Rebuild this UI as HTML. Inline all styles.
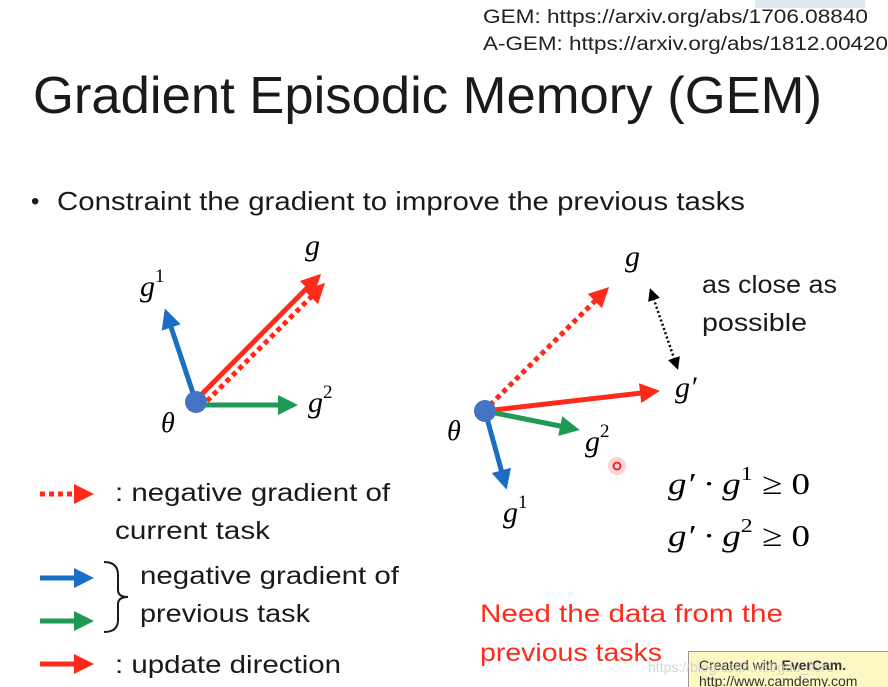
<!DOCTYPE html>
<html><head><meta charset="utf-8"><style>
html,body{margin:0;padding:0;background:#fff;}
svg{display:block;}
text{font-family:"Liberation Sans",sans-serif;}
.m{font-family:"Liberation Serif",serif;font-style:italic;}
.u{font-style:normal;}
</style></head><body>
<svg width="888" height="687" viewBox="0 0 888 687" xmlns="http://www.w3.org/2000/svg">
<defs>
<marker id="ar" markerWidth="4" markerHeight="4" refX="2" refY="2" orient="auto" markerUnits="strokeWidth"><path d="M0,0 L4,2 L0,4 z" fill="#ff2a1a"/></marker>
<marker id="ab" markerWidth="4" markerHeight="4" refX="2" refY="2" orient="auto" markerUnits="strokeWidth"><path d="M0,0 L4,2 L0,4 z" fill="#1a6fc4"/></marker>
<marker id="ag" markerWidth="4" markerHeight="4" refX="2" refY="2" orient="auto" markerUnits="strokeWidth"><path d="M0,0 L4,2 L0,4 z" fill="#1e9a55"/></marker>
<marker id="ak" markerWidth="5" markerHeight="5" refX="2.5" refY="2.5" orient="auto" markerUnits="strokeWidth"><path d="M0,0 L5,2.5 L0,5 z" fill="#000"/></marker>
<marker id="aks" markerWidth="5" markerHeight="5" refX="2.5" refY="2.5" orient="auto-start-reverse" markerUnits="strokeWidth"><path d="M0,0 L5,2.5 L0,5 z" fill="#000"/></marker>
</defs>
<rect x="755" y="0" width="110" height="8" fill="#dfe9f0"/>
<text x="483" y="23" font-size="19" fill="#222" textLength="385" lengthAdjust="spacingAndGlyphs">GEM: https://arxiv.org/abs/1706.08840</text>
<text x="483" y="50" font-size="19" fill="#222" textLength="405" lengthAdjust="spacingAndGlyphs">A-GEM: https://arxiv.org/abs/1812.00420</text>
<text x="33" y="113" font-size="52" fill="#1a1a1a" textLength="789" lengthAdjust="spacingAndGlyphs">Gradient Episodic Memory (GEM)</text>
<text x="31" y="209" font-size="24" fill="#1a1a1a">•</text>
<text x="57" y="210" font-size="26" fill="#1a1a1a" textLength="688" lengthAdjust="spacingAndGlyphs">Constraint the gradient to improve the previous tasks</text>

<!-- left diagram -->
<line x1="196" y1="402" x2="168" y2="318" stroke="#1a6fc4" stroke-width="5" marker-end="url(#ab)"/>
<line x1="196" y1="400" x2="314" y2="281" stroke="#ff2a1a" stroke-width="5" marker-end="url(#ar)"/>
<line x1="207" y1="401" x2="318" y2="290" stroke="#ff2a1a" stroke-width="5" stroke-dasharray="5 4" marker-end="url(#ar)"/>
<line x1="206" y1="405" x2="288" y2="405" stroke="#1e9a55" stroke-width="5" marker-end="url(#ag)"/>
<circle cx="196" cy="402" r="11" fill="#4472c4"/>
<text class="m" x="140" y="296" font-size="30">g<tspan class="u" font-size="19" dy="-14">1</tspan></text>
<text class="m" x="305" y="255" font-size="30">g</text>
<text class="m" x="308" y="412" font-size="30">g<tspan class="u" font-size="19" dy="-14">2</tspan></text>
<text class="m" x="161" y="432" font-size="28">θ</text>

<!-- right diagram -->
<line x1="490" y1="405" x2="602" y2="294" stroke="#ff2a1a" stroke-width="5" stroke-dasharray="5 4" marker-end="url(#ar)"/>
<line x1="485" y1="411" x2="650" y2="392" stroke="#ff2a1a" stroke-width="5" marker-end="url(#ar)"/>
<line x1="485" y1="411" x2="570" y2="428" stroke="#1e9a55" stroke-width="5" marker-end="url(#ag)"/>
<line x1="485" y1="411" x2="504" y2="480" stroke="#1a6fc4" stroke-width="5" marker-end="url(#ab)"/>
<line x1="652" y1="294" x2="676" y2="364" stroke="#000" stroke-width="2.5" stroke-dasharray="2 2.5" marker-end="url(#ak)" marker-start="url(#aks)"/>
<circle cx="485" cy="411" r="11" fill="#4472c4"/>
<text class="m" x="625" y="266" font-size="30">g</text>
<text class="m" x="675" y="397" font-size="30">g′</text>
<text class="m" x="585" y="451" font-size="30">g<tspan class="u" font-size="19" dy="-14">2</tspan></text>
<text class="m" x="503" y="522" font-size="30">g<tspan class="u" font-size="19" dy="-14">1</tspan></text>
<text class="m" x="447" y="440" font-size="28">θ</text>
<circle cx="617" cy="466" r="9" fill="#ff8080" opacity="0.35"/>
<circle cx="617" cy="466" r="3.5" fill="none" stroke="#e62020" stroke-width="1.8"/>
<text x="702" y="293" font-size="25" fill="#1a1a1a" textLength="135" lengthAdjust="spacingAndGlyphs">as close as</text>
<text x="702" y="331" font-size="25" fill="#1a1a1a" textLength="105" lengthAdjust="spacingAndGlyphs">possible</text>
<text class="m" x="668" y="494" font-size="31" textLength="142" lengthAdjust="spacingAndGlyphs">g′ · g<tspan class="u" font-size="20" dy="-14">1</tspan><tspan class="u" dy="14"> ≥ 0</tspan></text>
<text class="m" x="668" y="546" font-size="31" textLength="142" lengthAdjust="spacingAndGlyphs">g′ · g<tspan class="u" font-size="20" dy="-14">2</tspan><tspan class="u" dy="14"> ≥ 0</tspan></text>

<!-- legend -->
<line x1="40" y1="494" x2="84" y2="494" stroke="#ff2a1a" stroke-width="5" stroke-dasharray="5 4" marker-end="url(#ar)"/>
<text x="115" y="501" font-size="25" fill="#1a1a1a" textLength="275" lengthAdjust="spacingAndGlyphs">: negative gradient of</text>
<text x="115" y="539" font-size="25" fill="#1a1a1a" textLength="155" lengthAdjust="spacingAndGlyphs">current task</text>
<line x1="40" y1="578" x2="84" y2="578" stroke="#1a6fc4" stroke-width="5" marker-end="url(#ab)"/>
<line x1="40" y1="621" x2="84" y2="621" stroke="#1e9a55" stroke-width="5" marker-end="url(#ag)"/>
<path d="M104,562 Q118,562 118,575 L118,590 Q118,597 128,597 Q118,597 118,604 L118,620 Q118,632 104,632" fill="none" stroke="#1a1a1a" stroke-width="2"/>
<text x="140" y="584" font-size="25" fill="#1a1a1a" textLength="259" lengthAdjust="spacingAndGlyphs">negative gradient of</text>
<text x="140" y="622" font-size="25" fill="#1a1a1a" textLength="170" lengthAdjust="spacingAndGlyphs">previous task</text>
<line x1="40" y1="664" x2="84" y2="664" stroke="#ff2a1a" stroke-width="5" marker-end="url(#ar)"/>
<text x="115" y="673" font-size="25" fill="#1a1a1a" textLength="226" lengthAdjust="spacingAndGlyphs">: update direction</text>

<text x="480" y="622" font-size="25" fill="#ff2a1a" textLength="303" lengthAdjust="spacingAndGlyphs">Need the data from the</text>
<text x="480" y="661" font-size="25" fill="#ff2a1a" textLength="182" lengthAdjust="spacingAndGlyphs">previous tasks</text>

<rect x="688.5" y="651.5" width="205" height="40" fill="#fbf8c4" stroke="#999"/>
<text x="699" y="670" font-size="14" fill="#333">Created with <tspan font-weight="bold">EverCam.</tspan></text>
<text x="699" y="686" font-size="14" fill="#333" font-family="Liberation Mono">http://www.camdemy.com</text>
<text x="648" y="672" font-size="14" fill="#ccc" opacity="0.8">https://blog.csdn.net/gdu_lisr1</text>
</svg>
</body></html>
